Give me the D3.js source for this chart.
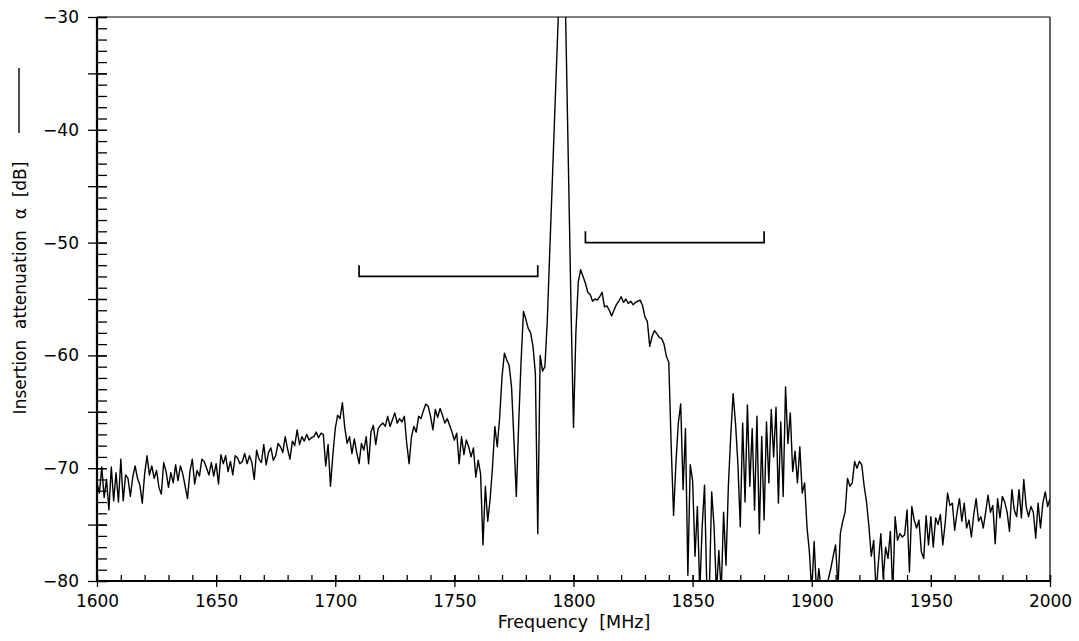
<!DOCTYPE html>
<html>
<head>
<meta charset="utf-8">
<script src="https://cdn.jsdelivr.net/npm/d3@7"></script>
<style>
body { margin: 0; background: #fff; }
svg { display: block; font-family: "DejaVu Sans", sans-serif; }
</style>
</head>
<body>
<svg width="1079" height="641"></svg>
<script>

/*
	Measured insertion attenuation, one value per MHz
*/
var freqStart = 1600;

var att1600 = [
	-71.3, -72.2, -69.9, -72.6, -71.0, -73.7, -69.9, -72.9, -70.4, -73.0,
	-69.2, -72.9, -70.6, -70.9, -72.5, -70.8, -69.8, -70.9, -71.5, -73.1,
	-70.5, -68.9, -70.6, -69.8, -70.9, -70.2, -71.7, -72.3, -69.5, -70.3,
	-71.7, -70.4, -71.3, -69.7, -71.1, -69.8, -70.5, -71.6, -72.7, -70.3,
	-69.2, -71.4, -70.2, -70.7, -69.2, -69.4, -70.0, -70.6, -69.5, -70.7,
	-69.6, -71.4, -68.8, -69.6, -68.9, -70.3, -69.4, -70.6, -68.9, -69.1,
	-69.6, -69.4, -68.7, -69.6, -68.9, -69.5, -71.0, -68.4, -69.2, -69.5,
	-67.9, -69.7, -68.6, -68.2, -69.3, -68.9, -67.8, -68.1, -68.6, -67.2,
	-68.3, -69.2, -67.6, -68.0, -66.6, -67.9, -67.2, -67.6, -67.0, -67.5,
	-67.3, -67.2, -66.8, -67.3, -66.9, -67.0, -69.8, -67.9, -71.6, -68.8
];

var att1700 = [
	-66.5, -65.3, -65.6, -64.2, -66.4, -67.8, -67.2, -68.7, -67.4, -68.6,
	-69.6, -67.8, -68.4, -67.2, -69.6, -66.8, -66.2, -67.9, -66.5, -66.2,
	-66.0, -66.3, -65.4, -66.3, -65.7, -65.1, -66.0, -65.6, -65.9, -65.4,
	-67.8, -69.6, -67.2, -66.3, -66.8, -65.4, -65.6, -64.9, -64.3, -64.5,
	-65.4, -66.6, -64.8, -65.5, -64.7, -65.3, -66.0, -65.6, -66.2, -66.8,
	-67.5, -66.9, -69.6, -67.2, -68.8, -67.5, -68.1, -69.0, -68.2, -70.8,
	-69.3, -70.5, -76.8, -71.6, -74.7, -72.8, -69.9, -66.3, -68.1, -65.5,
	-61.9, -59.8, -60.4, -60.9, -62.8, -67.5, -72.5, -66.0, -60.5, -56.1,
	-56.8, -57.6, -58.0, -59.2, -61.6, -75.8, -60.0, -61.4, -61.0, -56.9,
	-51.0, -45.2, -39.3, -33.5, -27.7, -21.0, -22.1, -33.4, -44.8, -56.2
];

var att1800 = [
	-66.4, -58.0, -53.5, -52.4, -53.0, -53.6, -54.4, -54.6, -55.2, -55.0,
	-55.1, -54.8, -54.4, -55.7, -55.6, -56.0, -56.5, -56.0, -55.5, -55.2,
	-54.8, -55.3, -55.0, -55.4, -55.2, -55.5, -55.3, -55.2, -55.1, -55.6,
	-56.6, -57.0, -59.2, -58.3, -57.8, -58.1, -58.4, -58.5, -59.0, -60.1,
	-60.6, -68.0, -74.2, -69.5, -66.0, -64.3, -71.9, -66.5, -79.5, -69.7,
	-71.1, -77.8, -73.4, -81.0, -75.2, -71.5, -81.0, -81.0, -72.1, -75.2,
	-81.0, -77.3, -81.0, -73.9, -78.6, -71.6, -67.1, -63.4, -66.0, -69.6,
	-75.2, -66.0, -73.0, -64.4, -71.6, -66.5, -73.7, -65.4, -75.8, -67.2,
	-74.6, -65.9, -71.3, -64.8, -69.0, -64.6, -73.1, -65.9, -72.5, -62.8,
	-67.8, -65.1, -70.3, -68.5, -71.3, -68.1, -72.2, -71.3, -75.2, -77.4
];

var att1900 = [
	-81.0, -76.5, -81.0, -78.9, -81.0, -81.0, -81.0, -79.8, -78.9, -77.8,
	-76.8, -80.5, -75.8, -74.7, -73.9, -70.9, -71.6, -71.3, -69.4, -70.0,
	-69.4, -69.7, -71.6, -73.0, -75.2, -77.8, -76.4, -81.0, -78.3, -75.8,
	-79.8, -77.0, -78.0, -75.6, -81.0, -74.3, -76.4, -75.8, -76.1, -75.9,
	-73.7, -79.2, -73.4, -74.6, -75.3, -74.6, -77.4, -78.0, -74.2, -76.8,
	-74.3, -77.0, -74.4, -75.0, -74.1, -76.8, -74.9, -72.2, -73.3, -73.1,
	-75.5, -73.9, -72.7, -74.7, -73.1, -75.3, -74.6, -76.1, -74.1, -72.7,
	-74.7, -74.3, -75.3, -73.9, -72.4, -73.9, -73.3, -76.7, -72.7, -74.4,
	-72.5, -73.0, -73.9, -75.6, -71.9, -73.7, -74.3, -71.9, -74.4, -71.0,
	-73.4, -74.3, -73.4, -73.9, -76.2, -73.1, -75.3, -73.1, -72.1, -73.4,
	-72.7
];

/*
	Axis ticks and the two band markers
*/
var xMajorTicks = [1600, 1650, 1700, 1750, 1800, 1850, 1900, 1950, 2000];
var yLabelTicks = [-80, -70, -60, -50, -40, -30];
var bandFrom = [1710, 1805];
var bandTo = [1785, 1880];
var bandLevel = [-53, -50];


var svg = d3.select('svg'),
	left = 97,
	right = 1050,
	top_ = 17,
	bottom = 581;

var x = d3.scaleLinear().domain([1600, 2000]).range([left, right]);
var y = d3.scaleLinear().domain([-80, -30]).range([bottom, top_]);

var points = att1600.concat(att1700, att1800, att1900).map(function (v, i) {
	return [freqStart + i, v];
});


svg.append('clipPath').attr('id', 'plot')
	.append('rect')
	.attr('x', left)
	.attr('y', top_)
	.attr('width', right - left)
	.attr('height', bottom - top_);


/*
	Frame: thin top and right, heavy left and bottom
*/
svg.append('line')
	.attr('x1', left).attr('x2', right).attr('y1', top_).attr('y2', top_)
	.style('stroke', '#000').style('stroke-width', 1.2);

svg.append('line')
	.attr('x1', right).attr('x2', right).attr('y1', top_).attr('y2', bottom)
	.style('stroke', '#000').style('stroke-width', 1.2);


/*
	Y axis
*/
var yMinor = svg.append('g').attr('transform', 'translate(' + left + ',0)')
	.call(d3.axisRight(y).tickValues(d3.range(-80, -29, 1)).tickSize(10).tickFormat(''));

var yMajor = svg.append('g').attr('transform', 'translate(' + left + ',0)')
	.call(d3.axisLeft(y).tickValues(d3.range(-80, -29, 5)).tickSize(9).tickPadding(9)
		.tickFormat(function (d) { return yLabelTicks.indexOf(d) >= 0 ? d3.format('d')(d) : ''; }));

yMajor.selectAll('.tick line').attr('x2', -9).attr('x1', 10);


/*
	X axis
*/
var xMinor = svg.append('g').attr('transform', 'translate(0,' + bottom + ')')
	.call(d3.axisTop(x).tickValues(d3.range(1600, 2001, 10)).tickSize(6).tickFormat(''));

var xMajor = svg.append('g').attr('transform', 'translate(0,' + bottom + ')')
	.call(d3.axisBottom(x).tickValues(xMajorTicks).tickSize(6).tickFormat(d3.format('d')));

xMajor.selectAll('.tick line').attr('y1', -6);
xMajor.selectAll('.tick text').attr('y', 25.7).attr('dy', null);

svg.selectAll('.domain').remove();
svg.selectAll('.tick line').style('stroke', '#000').style('stroke-width', 1.3);
svg.selectAll('.tick text')
	.style('font-family', '"DejaVu Sans", sans-serif')
	.style('font-size', '17px')
	.style('fill', '#000');


svg.append('line')
	.attr('x1', left).attr('x2', left).attr('y1', top_).attr('y2', bottom + 1)
	.style('stroke', '#000').style('stroke-width', 2.2);

svg.append('line')
	.attr('x1', left).attr('x2', right).attr('y1', bottom).attr('y2', bottom)
	.style('stroke', '#000').style('stroke-width', 2.2);


/*
	The curve
*/
svg.append('path')
	.datum(points)
	.attr('clip-path', 'url(#plot)')
	.attr('d', d3.line().x(function (d) { return x(d[0]); }).y(function (d) { return y(d[1]); }))
	.style('fill', 'none')
	.style('stroke', '#000')
	.style('stroke-width', 1.4)
	.style('stroke-linejoin', 'round');


/*
	Band brackets
*/
bandFrom.forEach(function (f, i) {
	var lv = bandLevel[i];
	svg.append('path')
		.attr('d', d3.line()([
			[x(f), y(lv + 1)],
			[x(f), y(lv)],
			[x(bandTo[i]), y(lv)],
			[x(bandTo[i]), y(lv + 1)]
		]))
		.style('fill', 'none')
		.style('stroke', '#000')
		.style('stroke-width', 1.7);
});


/*
	Titles
*/
svg.append('text')
	.attr('x', (left + right) / 2 + 0.5)
	.attr('y', 627.7)
	.attr('text-anchor', 'middle')
	.style('font-size', '17.5px')
	.style('white-space', 'pre')
	.text('Frequency  [MHz]');

svg.append('text')
	.attr('transform', 'translate(26,288) rotate(-90)')
	.attr('text-anchor', 'middle')
	.style('font-size', '17px')
	.style('white-space', 'pre')
	.text('Insertion  attenuation  \u03b1  [dB]');

svg.append('line')
	.attr('x1', 19).attr('x2', 19).attr('y1', 68).attr('y2', 133)
	.style('stroke', '#000').style('stroke-width', 1.4);

</script>
</body>
</html>
